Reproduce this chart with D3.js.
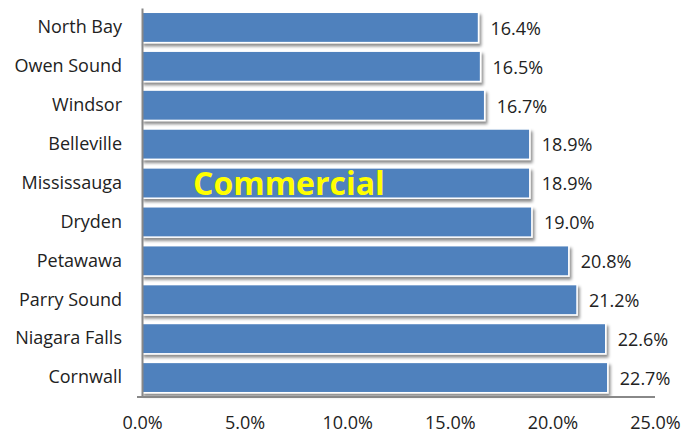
<!DOCTYPE html>
<html>
<head>
<meta charset="utf-8">
<script src="https://cdn.jsdelivr.net/npm/d3@7"></script>
<style>
  body { margin: 0; background: #fff; }
  text { font-family: "Open Sans", "Noto Sans", sans-serif; }
</style>
</head>
<body>
<svg id="chart" width="682" height="434"></svg>
<script>
// data
var cities = ["North Bay", "Owen Sound", "Windsor", "Belleville", "Mississauga",
              "Dryden", "Petawawa", "Parry Sound", "Niagara Falls", "Cornwall"];
var shares = [16.4, 16.5, 16.7, 18.9, 18.9, 19.0, 20.8, 21.2, 22.6, 22.7];
var xTicks = [0, 5, 10, 15, 20, 25];
var title = "Commercial";

var svg = d3.select("#chart");

var defs = svg.append("defs");
var f = defs.append("filter").attr("id", "shadow")
    .attr("x", "-5%").attr("y", "-20%").attr("width", "115%").attr("height", "150%");
f.append("feDropShadow")
    .attr("dx", 2).attr("dy", 3).attr("stdDeviation", 1.5)
    .attr("flood-color", "#000").attr("flood-opacity", 0.45);

var x = d3.scaleLinear().domain([0, 25]).range([142, 655]);
var y = d3.scaleBand().domain(cities).range([8, 397]).paddingInner(0.22).paddingOuter(0.11);

var data = cities.map(function(c, i) { return {city: c, value: shares[i]}; });

svg.selectAll(".bar")
  .data(data)
  .enter().append("rect")
    .attr("class", "bar")
    .attr("x", x(0))
    .attr("y", function(d) { return y(d.city); })
    .attr("width", function(d) { return x(d.value) - x(0); })
    .attr("height", y.bandwidth())
    .attr("fill", "#4F81BD")
    .attr("stroke", "#fff")
    .attr("stroke-width", 1.5)
    .attr("filter", "url(#shadow)");

// value labels
svg.selectAll(".val")
  .data(data)
  .enter().append("text")
    .attr("class", "val")
    .attr("x", function(d) { return x(d.value) + 12; })
    .attr("y", function(d) { return y(d.city) + y.bandwidth() / 2 + 1; })
    .attr("dy", "0.35em")
    .style("font-size", "18px")
    .attr("fill", "#222")
    .text(function(d) { return d.value.toFixed(1) + "%"; });

// category axis
var yAxis = svg.append("g")
    .attr("transform", "translate(" + x(0) + ",0)")
    .call(d3.axisLeft(y).tickSize(0).tickPadding(20));
yAxis.select(".domain").attr("stroke", "#888").attr("stroke-width", 2);
yAxis.selectAll("text").style("font-size", "18px").attr("fill", "#222");

// value axis
var xAxis = svg.append("g")
    .attr("transform", "translate(0,397)")
    .call(d3.axisBottom(x).tickValues(xTicks).tickSize(0).tickPadding(19)
      .tickFormat(function(d) { return d.toFixed(1) + "%"; }));
xAxis.select(".domain").remove();
xAxis.selectAll("text").style("font-size", "18px").attr("fill", "#222");
xAxis.append("line")
    .attr("x1", x(0) - 5).attr("x2", x(25))
    .attr("stroke", "#888").attr("stroke-width", 2);

svg.append("text")
    .attr("x", 193)
    .attr("y", y("Mississauga") + y.bandwidth() / 2 + 12)
    .style("font-size", "32px")
    .style("font-weight", "bold")
    .attr("fill", "#FFFF00")
    .text(title);
</script>
</body>
</html>
